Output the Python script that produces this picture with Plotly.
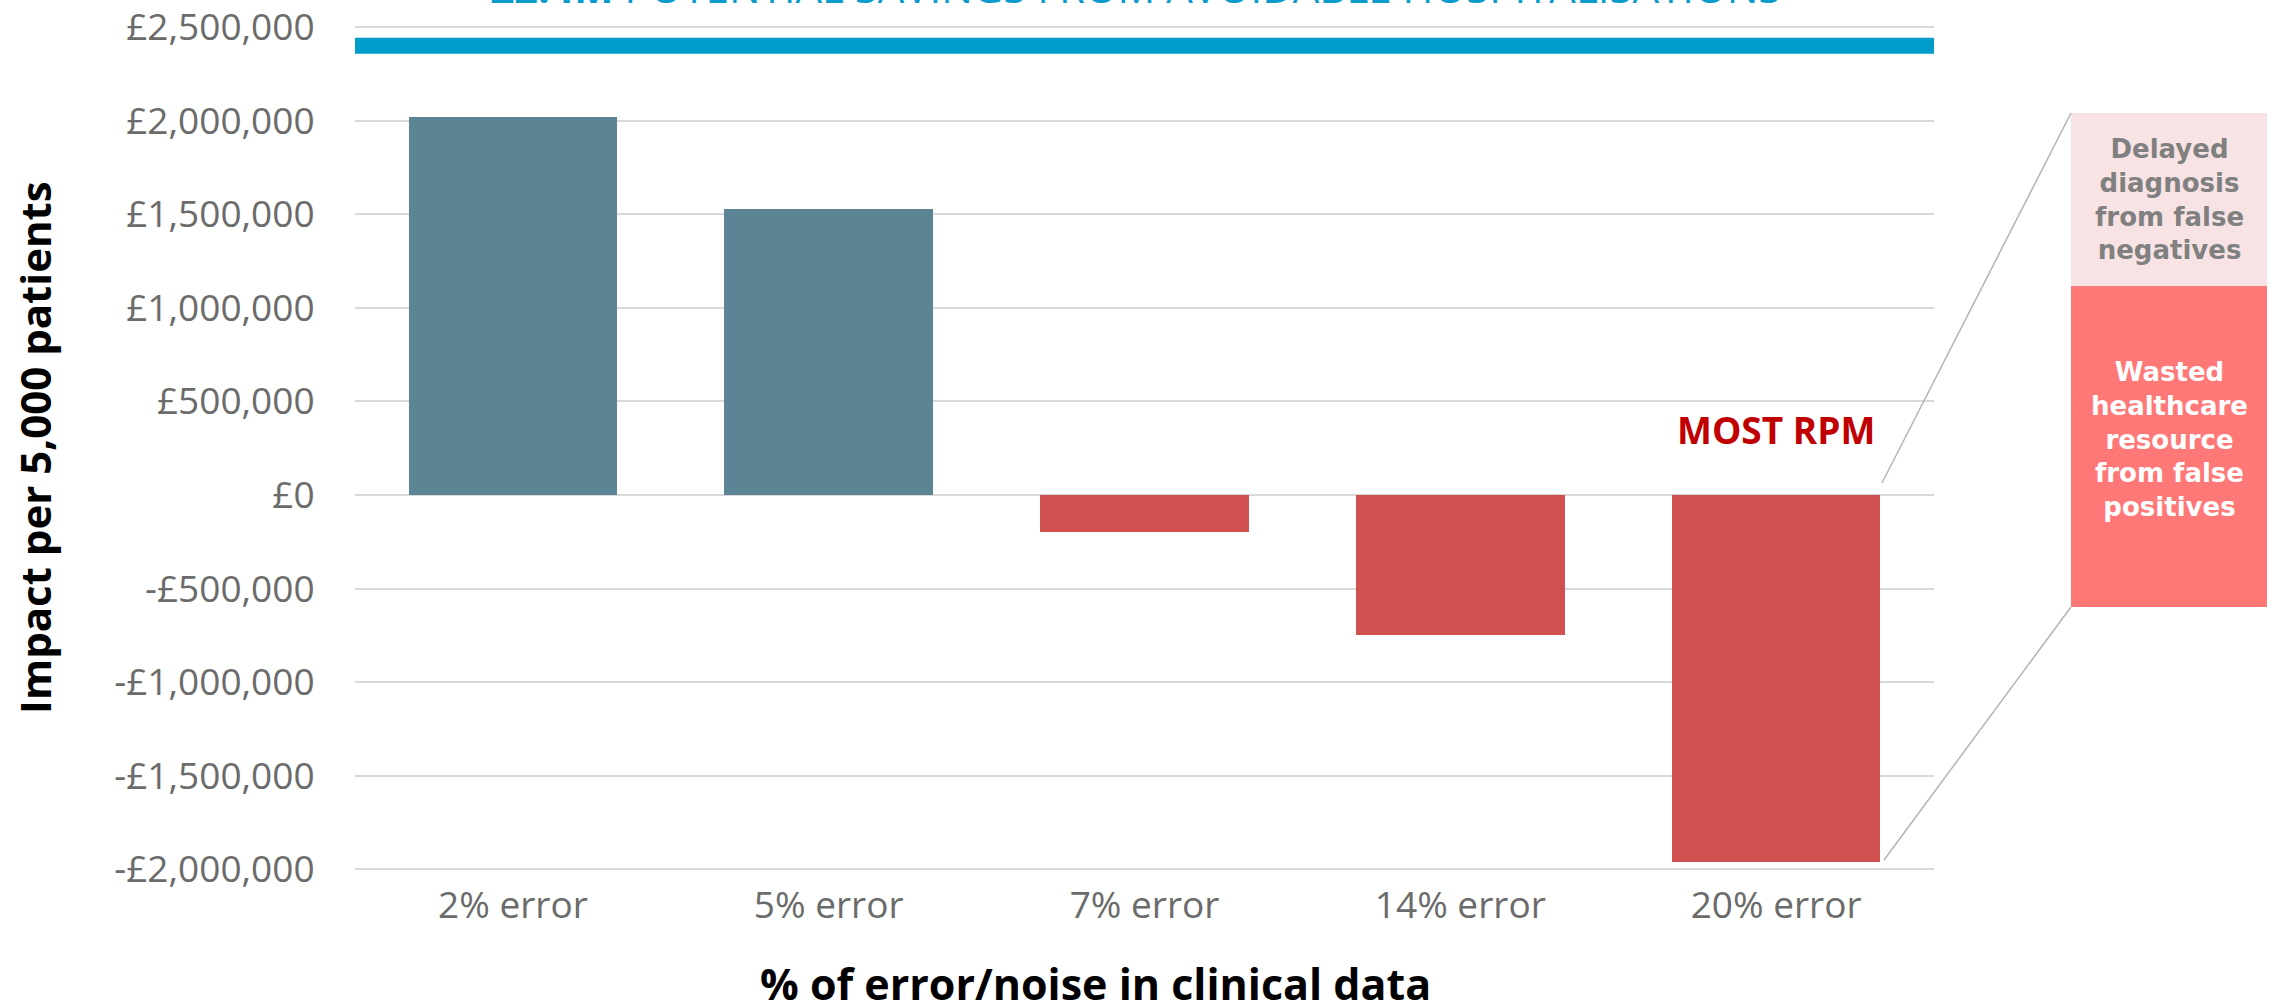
import plotly.graph_objects as go

# ---- data ----
categories = ["2% error", "5% error", "7% error", "14% error", "20% error"]
impact = [2020000, 1530000, -200000, -750000, -1960000]
potential_savings = 2400000
ytick_vals = [2500000, 2000000, 1500000, 1000000, 500000, 0, -500000, -1000000, -1500000, -2000000]
ytick_text = ["£2,500,000", "£2,000,000", "£1,500,000", "£1,000,000", "£500,000", "£0",
              "-£500,000", "-£1,000,000", "-£1,500,000", "-£2,000,000"]
breakdown_labels = ["Wasted healthcare resource from false positives",
                    "Delayed diagnosis from false negatives"]
breakdown_share = [0.65, 0.35]
wasted_lines = ["Wasted", "healthcare", "resource", "from false", "positives"]
delayed_lines = ["Delayed", "diagnosis", "from false", "negatives"]

# ---- geometry helpers (layout in pixels) ----
W, H = 2272, 1008
ML, MR, MT, MB = 355, 5, 10, 128
PW, PH = W - ML - MR, H - MT - MB


def px(x):
    return (x - ML) / PW


def py(y):
    return (H - MB - y) / PH


POS = "#5b8494"
NEG = "rgba(205,65,65,0.92)"
bar_colors = [POS if v >= 0 else NEG for v in impact]

fig = go.Figure()
fig.add_trace(go.Bar(
    x=categories, y=impact, marker=dict(color=bar_colors, line=dict(width=0)),
    width=0.66, showlegend=False, hoverinfo="x+y",
    xaxis="x", yaxis="y"))

# breakdown stacked bar (right panel)
bd_colors = ["#ff7878", "#f8e3e4"]
for lab, val, col in zip(breakdown_labels, breakdown_share, bd_colors):
    fig.add_trace(go.Bar(x=[""], y=[val], name=lab, marker=dict(color=col, line=dict(width=0)),
                         width=1.0, showlegend=False, xaxis="x2", yaxis="y2"))

GRID = "#d9d9d9"
TICKC = "#6b6b6b"
fig.update_layout(
    width=W, height=H,
    margin=dict(l=ML, r=MR, t=MT, b=MB, autoexpand=False),
    paper_bgcolor="white", plot_bgcolor="white",
    barmode="stack",
    font=dict(family="Open Sans", color=TICKC),
    xaxis=dict(domain=[0, px(1934)], range=[-0.5, 4.5], showgrid=False, zeroline=False,
               showline=False, automargin=False,
               tickfont=dict(size=37, color=TICKC, family="Open Sans"),
               ticks=""),
    yaxis=dict(range=[-2056600, 2590800], tickvals=ytick_vals, ticktext=ytick_text,
               showgrid=True, gridcolor=GRID, gridwidth=2, zeroline=False, showline=False,
               automargin=False, ticklabeloverflow="allow",
               tickfont=dict(size=37, color=TICKC, family="Open Sans"),
               ticks="outside", ticklen=32, tickcolor="rgba(0,0,0,0)"),
    xaxis2=dict(domain=[px(2071), 1.0], range=[-0.5, 0.5], visible=False, anchor="y2",
                automargin=False),
    yaxis2=dict(domain=[py(607), py(113)], range=[0, 1], visible=False, anchor="x2",
                automargin=False),
    showlegend=False,
)

# potential savings line
fig.add_shape(type="line", xref="x domain", yref="y", x0=0, x1=1,
              y0=potential_savings, y1=potential_savings,
              line=dict(color="#009cca", width=16), layer="above")

# connector lines
LC = "#b3b3b3"
fig.add_shape(type="line", xref="paper", yref="paper", x0=px(1882), y0=py(483),
              x1=px(2071), y1=py(113), line=dict(color=LC, width=1.5))
fig.add_shape(type="line", xref="paper", yref="paper", x0=px(1884), y0=py(860),
              x1=px(2071), y1=py(607), line=dict(color=LC, width=1.5))

ann = []
# title (partly cut off at top, as in the original)
ann.append(dict(text="<b>£2.4M</b> POTENTIAL SAVINGS FROM AVOIDABLE HOSPITALISATIONS",
                xref="paper", yref="paper", x=px(1135), y=py(17), xanchor="center",
                yanchor="bottom", showarrow=False,
                font=dict(size=42, color="#0a9bcb", family="Open Sans")))
# axis titles
ann.append(dict(text="<b>Impact per 5,000 patients</b>", xref="paper", yref="paper",
                x=px(34), y=py(448), textangle=-90, showarrow=False,
                xanchor="center", yanchor="middle",
                font=dict(size=42, color="#000000", family="Open Sans")))
ann.append(dict(text="<b>% of error/noise in clinical data</b>", xref="paper", yref="paper",
                x=px(1095), y=py(983), showarrow=False, xanchor="center", yanchor="middle",
                font=dict(size=43, color="#000000", family="Open Sans")))
# MOST RPM
ann.append(dict(text="<b>MOST RPM</b>", xref="x", yref="y", x=categories[-1], y=0,
                yanchor="bottom", yshift=38, showarrow=False,
                font=dict(size=37, color="#c00000", family="Open Sans")))
# breakdown texts
ann.append(dict(text="<b>" + "<br>".join(delayed_lines) + "</b>", xref="paper", yref="paper",
                x=px(2169), y=py(200), xanchor="center", yanchor="middle", showarrow=False,
                align="center", font=dict(size=26, color="#808080", family="DejaVu Sans")))
ann.append(dict(text="<b>" + "<br>".join(wasted_lines) + "</b>", xref="paper", yref="paper",
                x=px(2169), y=py(440), xanchor="center", yanchor="middle", showarrow=False,
                align="center", font=dict(size=26, color="#ffffff", family="DejaVu Sans")))
fig.update_layout(annotations=ann)

fig.write_html("out.html", config={"displayModeBar": False},
               post_script="document.body.style.margin='0';document.body.style.overflow='hidden';")
